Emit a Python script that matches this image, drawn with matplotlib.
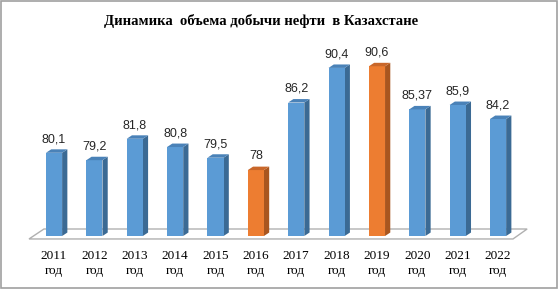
import numpy as np
import matplotlib.pyplot as plt
from matplotlib.patches import Polygon, Rectangle

years = ["2011", "2012", "2013", "2014", "2015", "2016",
         "2017", "2018", "2019", "2020", "2021", "2022"]
values = [80.1, 79.2, 81.8, 80.8, 79.5, 78.0, 86.2, 90.4, 90.6, 85.37, 85.9, 84.2]
labels = ["80,1", "79,2", "81,8", "80,8", "79,5", "78",
          "86,2", "90,4", "90,6", "85,37", "85,9", "84,2"]
highlight = ["2016", "2019"]

BLUE = ("#5b9bd5", "#3b6a94", "#4a82b8")
ORANGE = ("#ed7d31", "#a9561f", "#c9672a")

fig = plt.figure(figsize=(5.59, 2.90), dpi=100)
ax = fig.add_axes((0.0519, 0.1862, 0.8658, 0.7103))
ymin = 70
ax.set_xlim(-0.62, 11.37)
ax.set_ylim(ymin, 95)

# 3d depth offsets in data units
dx, dy = 0.13, 0.42

# floor
floor = Polygon([(-0.62, 69.64), (11.37, 69.64), (11.72, 70.85), (-0.25, 70.85)],
                closed=True, facecolor="white", edgecolor="#b0b0b0", lw=1.0,
                clip_on=False, zorder=1)
ax.add_patch(floor)

x = np.arange(len(years))
cols = [ORANGE if y in highlight else BLUE for y in years]
bars = ax.bar(x, np.array(values) - ymin, bottom=ymin, width=0.4,
              color=[c[0] for c in cols], zorder=3)

for b, c, lab in zip(bars, cols, labels):
    x0, y0 = b.get_x(), b.get_y()
    w, h = b.get_width(), b.get_height()
    x1, y1 = x0 + w, y0 + h
    side = Polygon([(x1, y0), (x1 + dx, y0 + dy), (x1 + dx, y1 + dy), (x1, y1)],
                   closed=True, facecolor=c[1], edgecolor="none", zorder=2.9,
                   clip_on=False)
    top = Polygon([(x0, y1), (x1, y1), (x1 + dx, y1 + dy), (x0 + dx, y1 + dy)],
                  closed=True, facecolor=c[2], edgecolor="none", zorder=3.1,
                  clip_on=False)
    ax.add_patch(side)
    ax.add_patch(top)
    ax.annotate(lab, (x0 + w / 2, y1 + dy), xytext=(0, 3),
                textcoords="offset points", ha="center", va="bottom",
                fontsize=9, family="Liberation Sans", color="#262626")

ax.set_xticks(x)
ax.set_xticklabels([y + "\nгод" for y in years], family="Liberation Serif",
                   fontsize=9.5, linespacing=1.35)
ax.tick_params(axis="x", length=0, pad=10)
ax.set_yticks([])
for s in ax.spines.values():
    s.set_visible(False)
ax.patch.set_visible(False)

fig.text(0.467, 0.927, "Динамика  объема добычи нефти  в Казахстане",
         ha="center", va="center", fontsize=10.5, fontweight="bold",
         family="Liberation Serif")

# outer frame
fig.patches.append(Rectangle((0.002, 0.008), 0.994, 0.988, transform=fig.transFigure,
                             fill=False, edgecolor="#a0a0a0", lw=1.2))

fig.savefig("out.png", dpi=100)
